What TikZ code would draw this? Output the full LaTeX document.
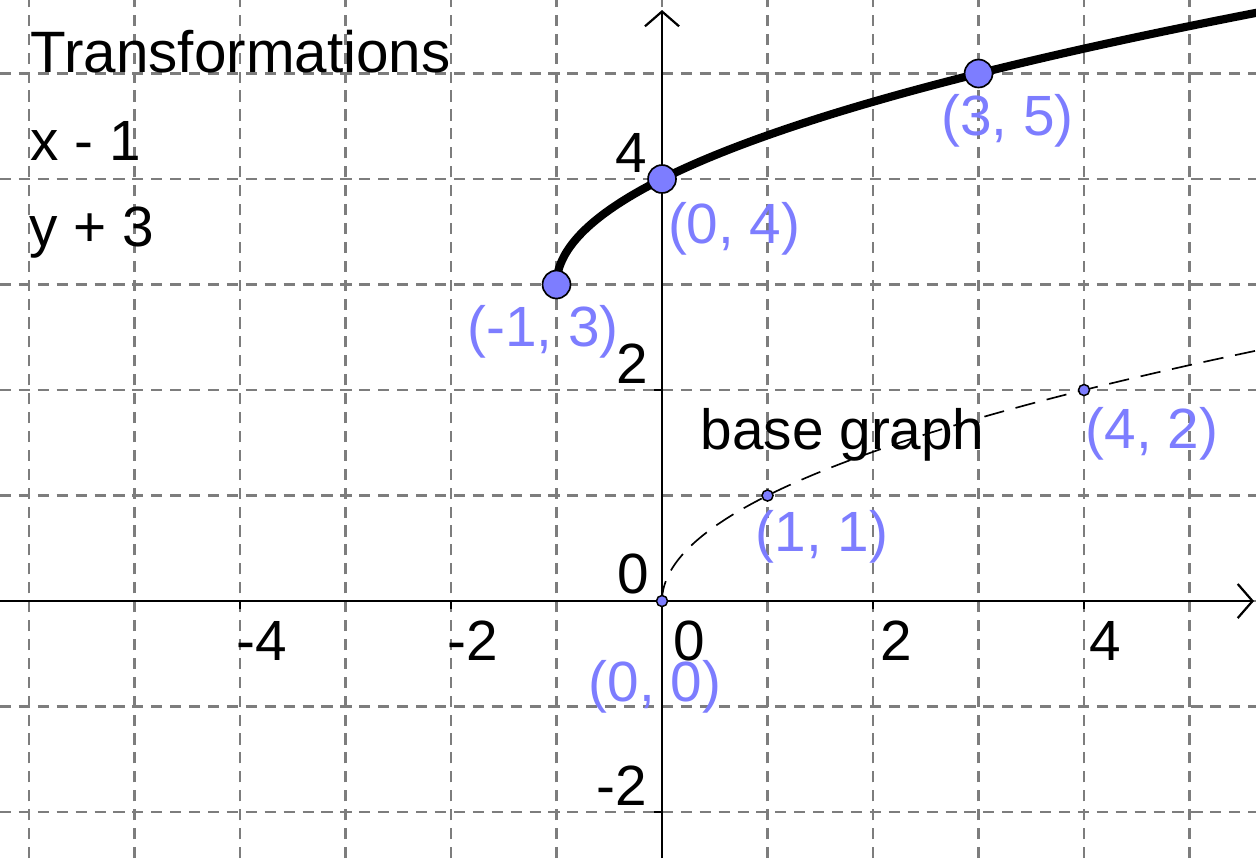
\documentclass[tikz,border=0pt]{standalone}
\usepackage{fontspec}
\setmainfont{Liberation Sans}
\usetikzlibrary{arrows.meta}
\definecolor{ptblue}{RGB}{125,125,255}
\definecolor{gridgray}{RGB}{125,125,125}
\begin{document}
\begin{tikzpicture}[x=1cm,y=1cm,
  font=\fontsize{15.3}{18}\selectfont,
  gridline/.style={gridgray, line width=0.65pt, dash pattern=on 3pt off 2.1pt},
  axisline/.style={black, line width=0.5pt, -{Straight Barb[length=4pt,width=9.2pt,line width=0.6pt]}},
  tickmark/.style={black, line width=0.5pt},
  bigpt/.style={circle, fill=ptblue, draw=black, line width=0.45pt, minimum size=0.265cm, inner sep=0pt},
  smallpt/.style={circle, fill=ptblue, draw=black, line width=0.4pt, minimum size=0.105cm, inner sep=0pt},
  bluelabel/.style={text=ptblue, anchor=base west, inner sep=0pt},
  blacklabel/.style={text=black, anchor=base west, inner sep=0pt},
  maincurve/.style={black, line width=2.2pt},
  basecurve/.style={black, line width=0.45pt, dash pattern=on 5.5pt off 3.2pt}
]
\useasboundingbox (-6.275,-2.436) rectangle (5.630,5.697);
\fill[white] (-6.275,-2.436) rectangle (5.630,5.697);
% grid
\foreach \gx in {-6,...,5} \draw[gridline] (\gx,-2.436) -- (\gx,5.697);
\foreach \gy in {-2,...,5} \draw[gridline] (-6.275,\gy) -- (5.630,\gy);
% axes
\coordinate (xstart) at (-6.275,0);
\coordinate (xend) at (5.611,0);
\coordinate (ystart) at (0,-2.436);
\coordinate (yend) at (0,5.602);
\draw[axisline] (xstart) -- (xend);
\draw[axisline] (ystart) -- (yend);
\foreach \tx in {-4,-2,2,4} \draw[tickmark] (\tx,0) -- (\tx,-0.08);
\foreach \ty in {-2,2,4} \draw[tickmark] (0,\ty) -- (-0.08,\ty);
% axis labels
\node[blacklabel] (ly4) at (-0.45,4.066) {4};
\node[blacklabel] (ly2) at (-0.44,2.066) {2};
\node[blacklabel] (ly0) at (-0.43,0.076) {0};
\node[blacklabel] (lym2) at (-0.63,-1.934) {-2};
\node[blacklabel] (lxm4) at (-4.04,-0.56) {-4};
\node[blacklabel] (lxm2) at (-2.04,-0.56) {-2};
\node[blacklabel] (lx0) at (0.10,-0.56) {0};
\node[blacklabel] (lx2) at (2.06,-0.56) {2};
\node[blacklabel] (lx4) at (4.04,-0.56) {4};
% curves
\begin{scope}
\clip (-6.275,-2.436) rectangle (5.630,5.697);
\draw[basecurve] plot[domain=0:2.38, samples=120, variable=\t] ({\t*\t},{\t});
\draw[maincurve] plot[domain=0:2.58, samples=150, variable=\t] ({\t*\t-1},{\t+3});
\end{scope}
% points
\node[smallpt] (p00) at (0,0) {};
\node[smallpt] (p11) at (1,1) {};
\node[smallpt] (p42) at (4,2) {};
\node[bigpt] (pm13) at (-1,3) {};
\node[bigpt] (p04) at (0,4) {};
\node[bigpt] (p35) at (3,5) {};
% point labels
\node[bluelabel] (tm13) at (-1.85,2.41) {(-1, 3)};
\node[bluelabel] (t04) at (0.05,3.39) {(0, 4)};
\node[bluelabel] (t35) at (2.64,4.41) {(3, 5)};
\node[bluelabel] (t42) at (4.01,1.45) {(4, 2)};
\node[bluelabel] (t11) at (0.88,0.47) {(1, 1)};
\node[bluelabel] (t00) at (-0.70,-0.95) {(0, 0)};
% texts
\node[blacklabel] (basetxt) at (0.36,1.44) {base graph};
\node[blacklabel, font=\fontsize{15.75}{18}\selectfont] (title) at (-5.99,5.005) {Transformations};
\node[blacklabel] (tx) at (-5.99,4.18) {x - 1};
\node[blacklabel] (ty) at (-6.00,3.36) {y + 3};
\end{tikzpicture}
\end{document}
